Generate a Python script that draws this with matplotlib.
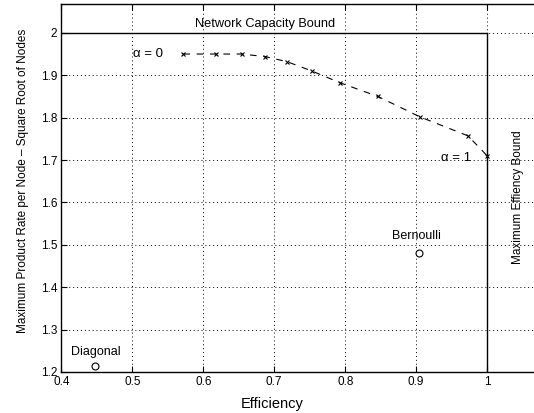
import matplotlib
matplotlib.use("Agg")
import matplotlib.pyplot as plt

plt.rcParams['font.family'] = ['Liberation Sans', 'DejaVu Sans']

# Curve (alpha from 0 to 1)
eff = [0.572, 0.618, 0.654, 0.687, 0.718, 0.753, 0.793, 0.846, 0.905, 0.973, 1.0]
rate = [1.950, 1.950, 1.950, 1.944, 1.932, 1.910, 1.882, 1.850, 1.802, 1.757, 1.710]

# Isolated schemes
points_x = [0.904, 0.447]
points_y = [1.480, 1.213]
points_lbl = ["Bernoulli", "Diagonal"]

xticks = [0.4, 0.5, 0.6, 0.7, 0.8, 0.9, 1.0]
xticklabels = ["0.4", "0.5", "0.6", "0.7", "0.8", "0.9", "1"]
yticks = [1.2, 1.3, 1.4, 1.5, 1.6, 1.7, 1.8, 1.9, 2.0]
yticklabels = ["1.2", "1.3", "1.4", "1.5", "1.6", "1.7", "1.8", "1.9", "2"]

cap_bound = 2.0
eff_bound = 1.0

fig = plt.figure(figsize=(5.34, 4.13), dpi=100)
ax = fig.add_axes([0.1148, 0.0993, 0.8852, 0.891])

ax.set_xlim(0.4, 1.066)
ax.set_ylim(1.2, 2.068)

ax.set_xticks(xticks)
ax.set_xticklabels(xticklabels, fontsize=8.5)
ax.set_yticks(yticks)
ax.set_yticklabels(yticklabels, fontsize=8.5)
ax.tick_params(direction='in', length=4, width=0.8, top=True, right=False, pad=3)
ax.grid(True, linestyle=(0, (1, 3)), color='black', linewidth=0.7)
ax.spines['right'].set_visible(False)
for s in ['left', 'bottom', 'top']:
    ax.spines[s].set_linewidth(1.0)

# bounds
ax.plot([0.4, eff_bound], [cap_bound, cap_bound], color='black', linewidth=1.0)
ax.plot([eff_bound, eff_bound], [1.2, cap_bound], color='black', linewidth=1.0)

ax.plot(eff, rate, linestyle=(0, (6, 6)), color='black', linewidth=0.8,
        marker='x', markersize=3.5, markeredgewidth=0.8)
ax.plot(points_x, points_y, linestyle='none', marker='o', markersize=5,
        markerfacecolor='white', markeredgecolor='black', markeredgewidth=0.8,
        clip_on=False)

ax.text(0.687, 2.02, "Network Capacity Bound", fontsize=9.2, ha='center', va='center')
ax.text(1.044, 1.613, "Maximum Effiency Bound", fontsize=8.5, ha='center', va='center',
        rotation=90)
ax.text(0.501, 1.95, "α = 0", fontsize=9.5, ha='left', va='center')
ax.text(0.935, 1.705, "α = 1", fontsize=9.5, ha='left', va='center')
ax.text(0.90, 1.521, points_lbl[0], fontsize=9, ha='center', va='center')
ax.text(0.448, 1.248, points_lbl[1], fontsize=9, ha='center', va='center')

ax.set_xlabel("Efficiency", fontsize=10.5, labelpad=8)
ax.xaxis.set_label_coords(0.446, -0.068)
ax.set_ylabel("Maximum Product Rate per Node – Square Root of Nodes", fontsize=8.5)
ax.yaxis.set_label_coords(-0.068, 0.52)

fig.savefig("out.png", dpi=100)
